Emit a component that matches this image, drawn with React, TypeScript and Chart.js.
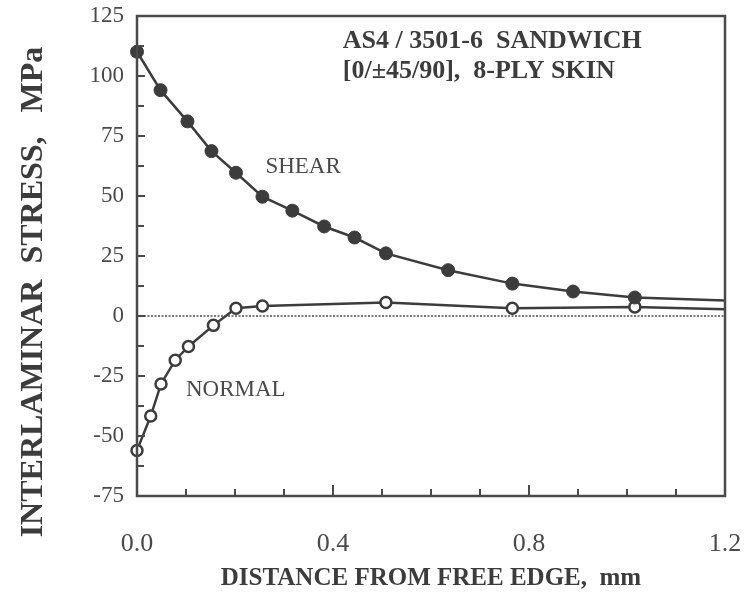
import React, { useEffect, useRef } from "react";
import { Chart, registerables } from "chart.js";

Chart.register(...registerables);

// ---- data ----
const shearX = [0, 0.048, 0.103, 0.152, 0.202, 0.256, 0.317, 0.382, 0.444, 0.508, 0.635, 0.766, 0.89, 1.016, 1.2];
const shearY = [110.1, 94.1, 81.1, 68.7, 59.7, 49.7, 43.9, 37.3, 32.7, 26.1, 19.1, 13.5, 10.2, 7.7, 6.5];
const shearMarked = [1, 1, 1, 1, 1, 1, 1, 1, 1, 1, 1, 1, 1, 1, 0];

const normalX = [0, 0.028, 0.049, 0.078, 0.105, 0.156, 0.202, 0.256, 0.508, 0.766, 1.016, 1.2];
const normalY = [-56, -41.7, -28.3, -18.4, -12.7, -3.9, 3.2, 4.2, 5.6, 3.2, 3.8, 2.8];
const normalMarked = [1, 1, 1, 1, 1, 1, 1, 1, 1, 1, 1, 0];

const zeroX = [0, 1.2];
const zeroY = [0, 0];

const xMajorTicks = [0, 0.4, 0.8, 1.2];
const xMinorTicks = [0.1, 0.2, 0.3, 0.5, 0.6, 0.7, 0.9, 1.0, 1.1];
const yMajorTicks = [-75, -50, -25, 0, 25, 50, 75, 100, 125];
const yMinorTicks = [-62.5, -37.5, -12.5, 12.5, 37.5, 62.5, 87.5, 112.5];

const xTitle = "DISTANCE FROM FREE EDGE,  mm";
const yTitle = "INTERLAMINAR  STRESS,   MPa";
const headerLines = ["AS4 / 3501-6  SANDWICH", "[0/\u00B145/90],  8-PLY SKIN"];
const shearLabel = "SHEAR";
const normalLabel = "NORMAL";

const INK = "#3c3c3c";
const TEXT = "#4a4a4a";
const SERIF = "'Liberation Serif', 'Times New Roman', serif";

function toPoints(xs: number[], ys: number[]) {
  return xs.map((x, i) => ({ x, y: ys[i] }));
}

function noAutoPadding(scale: any) {
  scale.paddingLeft = 0;
  scale.paddingRight = 0;
  scale.paddingTop = 0;
  scale.paddingBottom = 0;
}

const decorPlugin = {
  id: "decor",
  afterDraw(chart: any) {
    const { ctx, chartArea, scales } = chart;
    const xs = scales.x;
    const ys = scales.y;
    const { left, right, top, bottom } = chartArea;
    ctx.save();
    // frame
    ctx.strokeStyle = "#4a4a4a";
    ctx.lineWidth = 2.5;
    ctx.beginPath();
    ctx.moveTo(left, top);
    ctx.lineTo(right, top);
    ctx.lineTo(right, bottom);
    ctx.lineTo(left, bottom);
    ctx.closePath();
    ctx.stroke();
    // inward ticks
    ctx.lineWidth = 2;
    ctx.beginPath();
    yMajorTicks.forEach((v) => {
      const py = ys.getPixelForValue(v);
      ctx.moveTo(left, py);
      ctx.lineTo(left + 8, py);
    });
    yMinorTicks.forEach((v) => {
      const py = ys.getPixelForValue(v);
      ctx.moveTo(left, py);
      ctx.lineTo(left + 7, py);
    });
    xMajorTicks.forEach((v) => {
      const px = xs.getPixelForValue(v);
      ctx.moveTo(px, bottom);
      ctx.lineTo(px, bottom - 11);
    });
    xMinorTicks.forEach((v) => {
      const px = xs.getPixelForValue(v);
      ctx.moveTo(px, bottom);
      ctx.lineTo(px, bottom - 7);
    });
    ctx.stroke();

    // annotations
    ctx.fillStyle = INK;
    ctx.textAlign = "left";
    ctx.textBaseline = "middle";
    ctx.font = `bold 26px ${SERIF}`;
    ctx.fillText(headerLines[0], xs.getPixelForValue(0.42), ys.getPixelForValue(114.6));
    ctx.fillText(headerLines[1], xs.getPixelForValue(0.42), ys.getPixelForValue(102));
    ctx.fillStyle = TEXT;
    ctx.font = `23px ${SERIF}`;
    ctx.fillText(shearLabel, xs.getPixelForValue(0.262), ys.getPixelForValue(62));
    ctx.fillText(normalLabel, xs.getPixelForValue(0.1), ys.getPixelForValue(-31));

    // y title
    ctx.fillStyle = INK;
    ctx.font = `bold 32px ${SERIF}`;
    ctx.textAlign = "center";
    ctx.translate(left - 103, ys.getPixelForValue(10));
    ctx.rotate(-Math.PI / 2);
    ctx.fillText(yTitle, 0, 0);
    ctx.restore();
  },
};

export default function App() {
  const ref = useRef<HTMLCanvasElement | null>(null);
  useEffect(() => {
    if (!ref.current) return;
    const chart = new Chart(ref.current, {
      type: "line",
      data: {
        datasets: [
          {
            label: "zero",
            data: toPoints(zeroX, zeroY),
            borderColor: "#7a7a7a",
            borderWidth: 2,
            borderDash: [2, 1.5],
            pointRadius: 0,
            order: 3,
          },
          {
            label: "Normal",
            data: toPoints(normalX, normalY),
            borderColor: INK,
            borderWidth: 2.5,
            backgroundColor: "#ffffff",
            pointBackgroundColor: "#ffffff",
            pointBorderColor: INK,
            pointBorderWidth: 2.5,
            pointRadius: normalMarked.map((m) => (m ? 5.5 : 0)),
            tension: 0,
            clip: false as any,
            order: 2,
          },
          {
            label: "Shear",
            data: toPoints(shearX, shearY),
            borderColor: INK,
            borderWidth: 2.5,
            backgroundColor: INK,
            pointBackgroundColor: INK,
            pointBorderColor: INK,
            pointBorderWidth: 1,
            pointRadius: shearMarked.map((m) => (m ? 6.5 : 0)),
            tension: 0,
            clip: false as any,
            order: 1,
          },
        ],
      },
      options: {
        responsive: false,
        animation: false,
        layout: { padding: { top: 16, right: 23, left: 0, bottom: 0 } },
        plugins: {
          legend: { display: false },
          tooltip: { enabled: false },
        },
        scales: {
          x: {
            type: "linear",
            min: 0,
            max: 1.2,
            grid: { display: false, drawTicks: false },
            border: { display: false },
            afterBuildTicks: (scale: any) => {
              scale.ticks = xMajorTicks.map((v) => ({ value: v }));
            },
            afterFit: (scale: any) => {
              scale.height = 103;
              noAutoPadding(scale);
            },
            ticks: {
              color: TEXT,
              font: { family: SERIF, size: 26 },
              padding: 33,
              maxRotation: 0,
              callback: (v: any) => Number(v).toFixed(1),
            },
            title: {
              display: true,
              text: xTitle,
              color: INK,
              font: { family: SERIF, size: 25, weight: "bold" },
              padding: { top: 0, bottom: 5 },
            },
          },
          y: {
            type: "linear",
            min: -75,
            max: 125,
            grid: { display: false, drawTicks: false },
            border: { display: false },
            afterBuildTicks: (scale: any) => {
              scale.ticks = yMajorTicks.map((v) => ({ value: v }));
            },
            afterFit: (scale: any) => {
              scale.width = 137;
              noAutoPadding(scale);
            },
            ticks: {
              color: TEXT,
              font: { family: SERIF, size: 23 },
              padding: 13,
              callback: (v: any) => String(v),
            },
          },
        },
      },
      plugins: [decorPlugin],
    });
    return () => chart.destroy();
  }, []);
  return (
    <div style={{ position: "fixed", left: 0, top: 0, width: 748, height: 599, background: "#ffffff" }}>
      <canvas ref={ref} width={748} height={599} style={{ width: 748, height: 599, display: "block" }} />
    </div>
  );
}
